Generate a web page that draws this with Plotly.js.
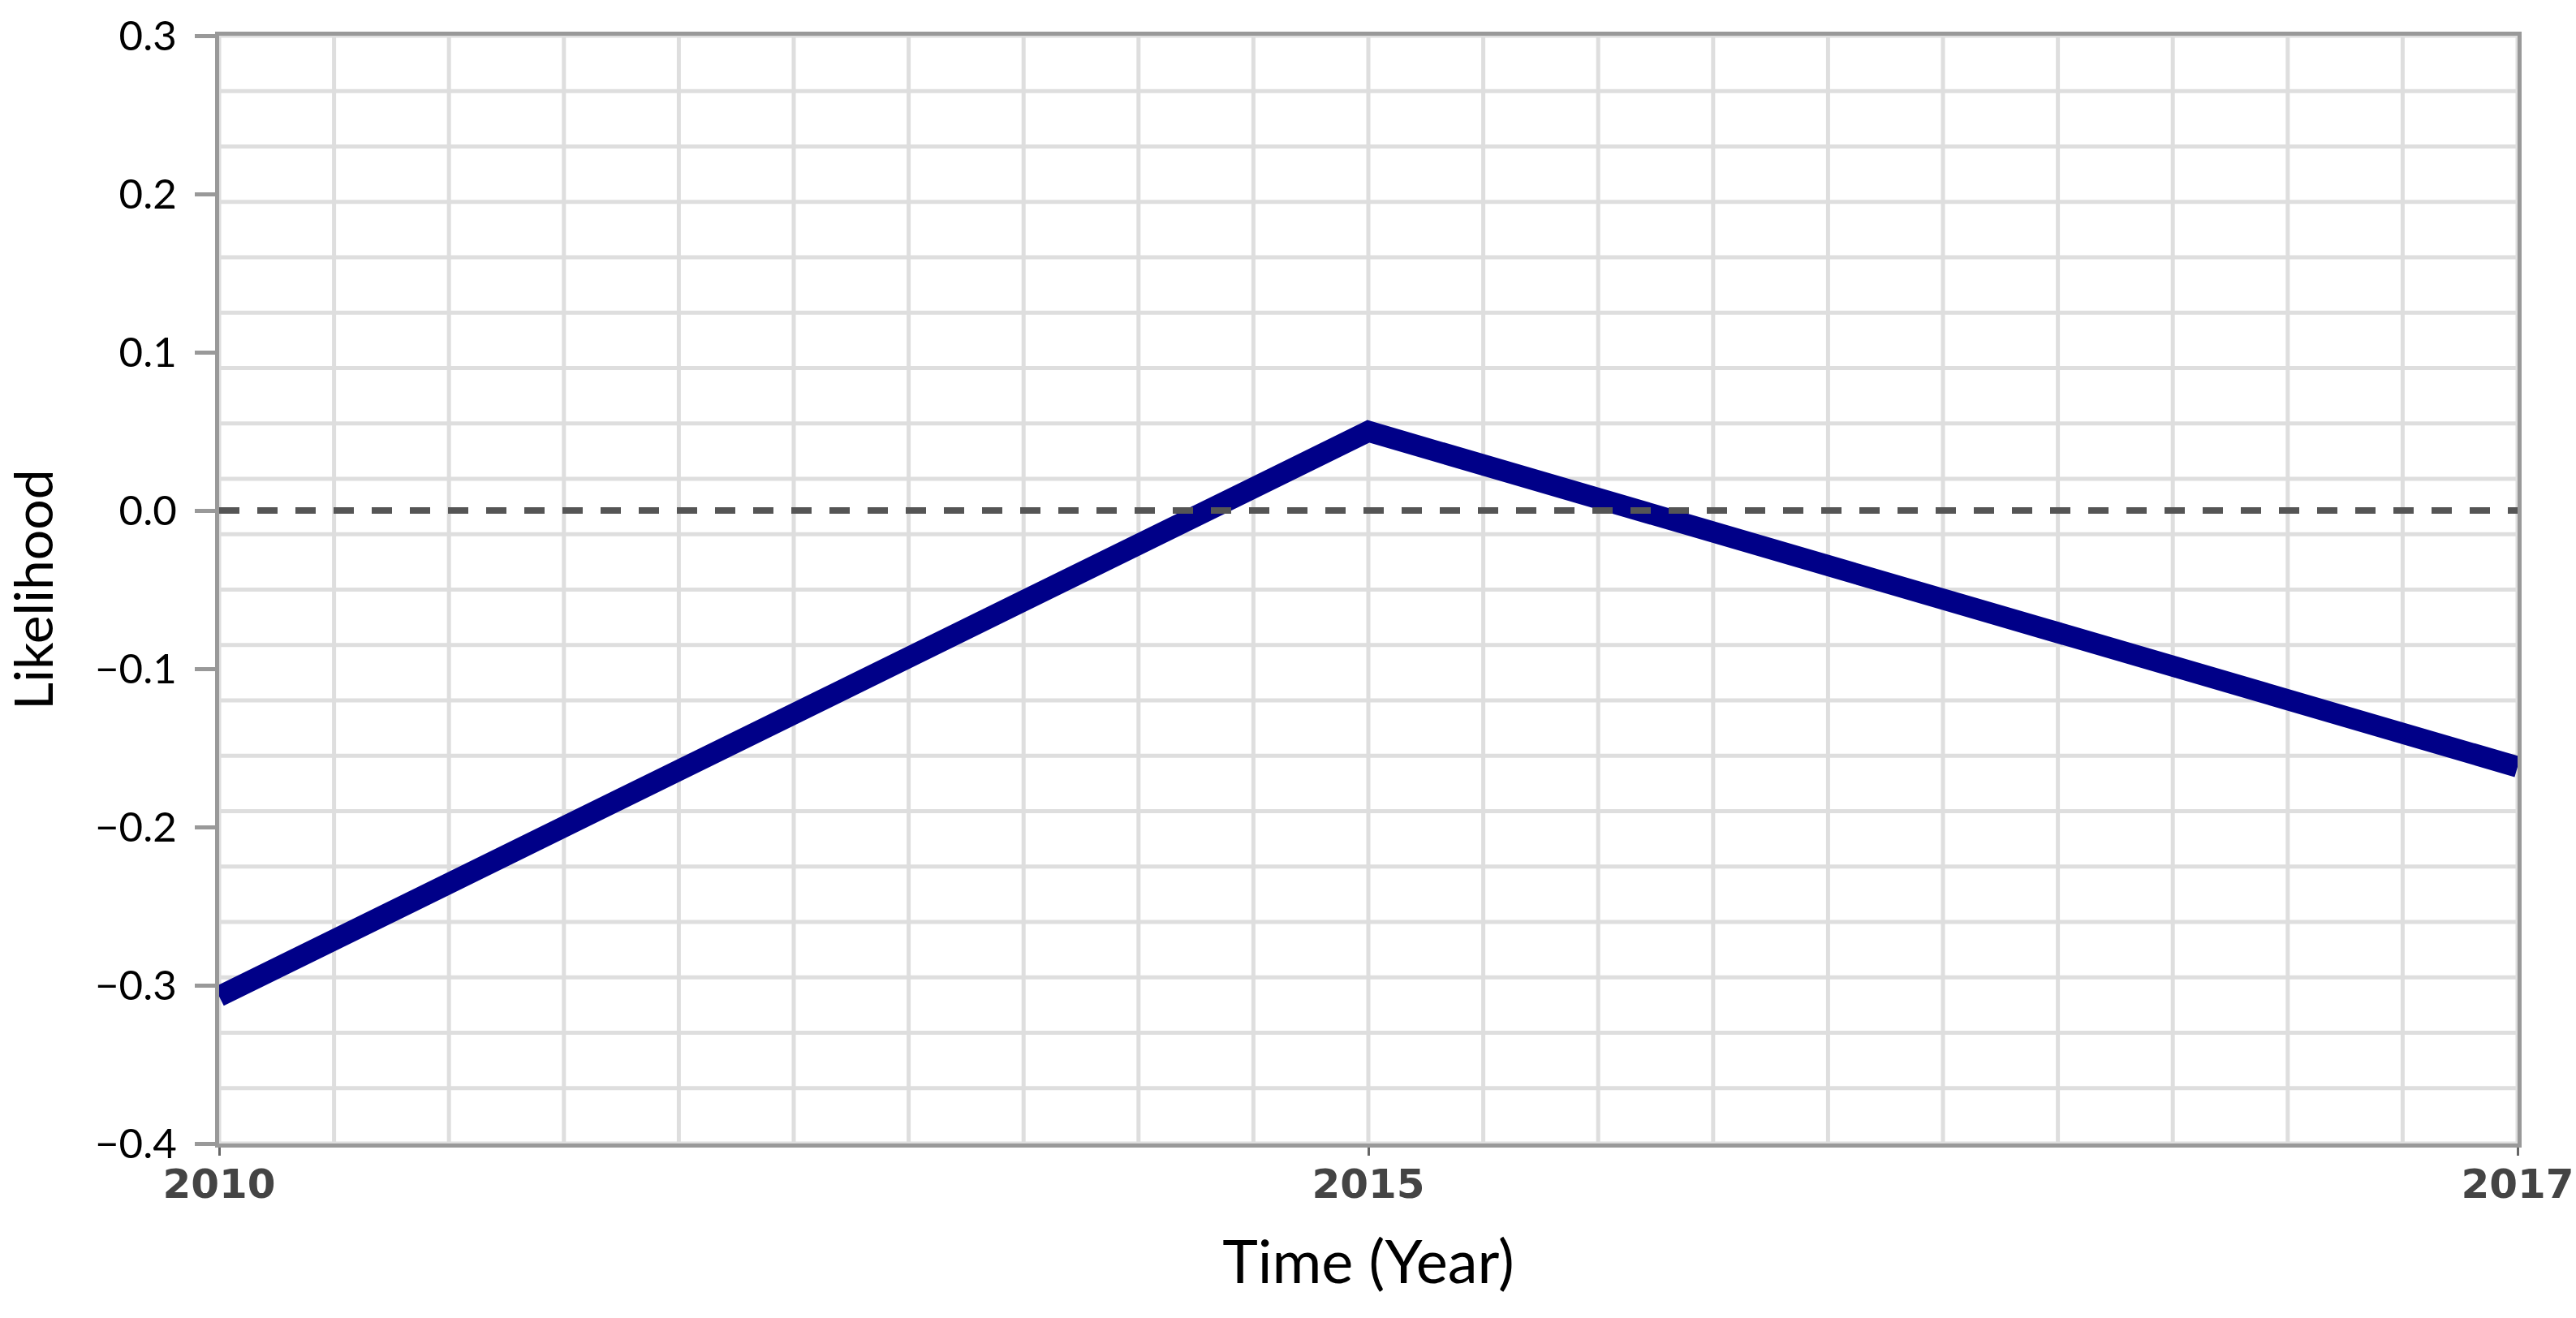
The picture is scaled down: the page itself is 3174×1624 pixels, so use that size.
<!DOCTYPE html>
<html>
<head>
<meta charset="utf-8">
<script src="https://cdn.plot.ly/plotly-3.0.1.min.js"></script>
<style>
  html, body { margin: 0; padding: 0; background: #ffffff; }
  #chart { width: 3174px; height: 1624px; }
</style>
</head>
<body>
<div id="chart"></div>
<script>
// ---- data ----
const years = ["2010", "2015", "2017"];
const likelihood = [-0.307, 0.05, -0.162];
const yTickVals = [-0.4, -0.3, -0.2, -0.1, 0.0, 0.1, 0.2, 0.3];
const referenceLevel = 0;
const gridDivisions = 20;

// ---- background grid (uniform 20 x 20 division of the plot area) ----
const shapes = [];
for (let i = 0; i <= gridDivisions; i++) {
  shapes.push({
    type: "line", layer: "below",
    xref: "x domain", yref: "y domain",
    x0: i / gridDivisions, x1: i / gridDivisions, y0: 0, y1: 1,
    line: { color: "#dedede", width: 5 }
  });
  shapes.push({
    type: "line", layer: "below",
    xref: "x domain", yref: "y domain",
    x0: 0, x1: 1, y0: i / gridDivisions, y1: i / gridDivisions,
    line: { color: "#dedede", width: 5 }
  });
}
// dashed reference line at zero
shapes.push({
  type: "line", layer: "above",
  xref: "x domain", yref: "y",
  x0: 0, x1: 1, y0: referenceLevel, y1: referenceLevel,
  line: { color: "#555555", width: 8, dash: "25px,22px" }
});

const trace = {
  x: years,
  y: likelihood,
  type: "scatter",
  mode: "lines",
  line: { color: "#000088", width: 26 },
  hoverinfo: "x+y",
  showlegend: false
};

const layout = {
  width: 3174,
  height: 1624,
  margin: { l: 270, r: 72, t: 44, b: 215, pad: 0 },
  paper_bgcolor: "#ffffff",
  plot_bgcolor: "#ffffff",
  showlegend: false,
  xaxis: {
    type: "category",
    range: [0, years.length - 1],
    showgrid: false,
    zeroline: false,
    showline: true,
    mirror: true,
    linecolor: "#999999",
    linewidth: 5,
    ticks: "outside",
    ticklen: 10,
    tickwidth: 3,
    tickcolor: "#666666",
    ticklabelstandoff: -8,
    tickfont: { family: "DejaVu Sans", size: 50, color: "#444444", weight: "bold" },
    title: {
      text: "Time (Year)",
      font: { family: "Lato", size: 74, color: "#000000" },
      standoff: 44
    },
    automargin: false
  },
  yaxis: {
    range: [-0.4, 0.3],
    tickmode: "array",
    tickvals: yTickVals,
    tickformat: ".1f",
    showgrid: false,
    zeroline: false,
    showline: true,
    mirror: true,
    linecolor: "#999999",
    linewidth: 5,
    ticks: "outside",
    ticklen: 25,
    tickwidth: 5,
    tickcolor: "#999999",
    ticklabelstandoff: 12,
    tickfont: { family: "Lato", size: 51, color: "#000000" },
    title: {
      text: "Likelihood",
      font: { family: "Lato", size: 66, color: "#000000" },
      standoff: 34
    },
    automargin: false
  },
  shapes: shapes
};

Plotly.newPlot("chart", [trace], layout, { displayModeBar: false, staticPlot: true });
</script>
</body>
</html>
